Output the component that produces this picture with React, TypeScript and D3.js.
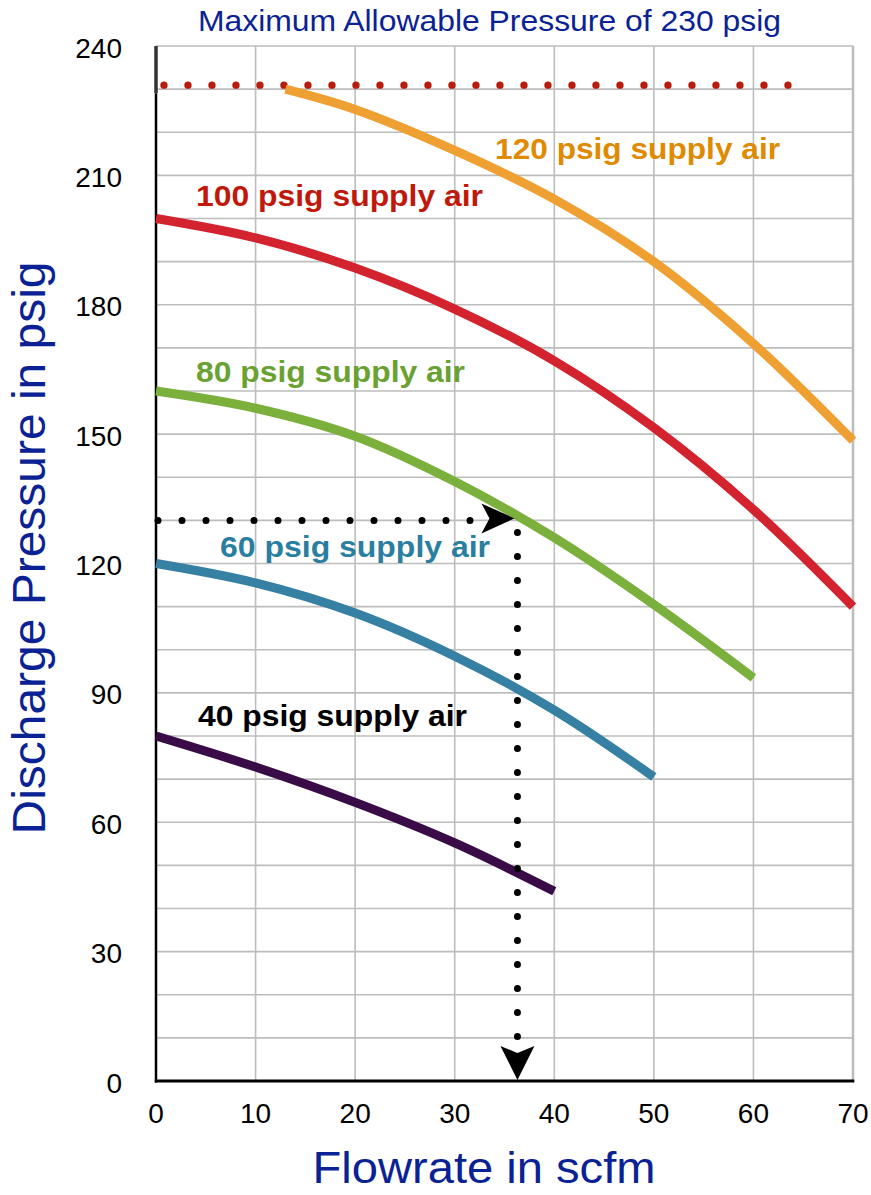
import * as d3 from "d3";
import React from "react";

// flow (scfm) vs discharge pressure (psig)
const curve120: [number, number][] = [[13, 230], [20, 225.3], [30, 215.8], [40, 204.5], [50, 190], [60, 171], [70, 148.5]];
const curve100: [number, number][] = [[0, 200], [10, 195.5], [20, 188.5], [30, 179], [40, 167], [50, 151.5], [60, 132.5], [70, 110]];
const curve80: [number, number][] = [[0, 160], [10, 156], [20, 149.5], [30, 139], [40, 126], [50, 110.5], [60, 93.5]];
const curve60: [number, number][] = [[0, 120], [10, 115.5], [20, 108.5], [30, 98.5], [40, 86], [50, 70.5]];
const curve40: [number, number][] = [[0, 80], [10, 72.8], [20, 64.6], [30, 55.2], [40, 44]];

const curveNames = ["120 psig supply air", "100 psig supply air", "80 psig supply air", "60 psig supply air", "40 psig supply air"];

const xTicks = [0, 10, 20, 30, 40, 50, 60, 70];
const yTicks = [0, 30, 60, 90, 120, 150, 180, 210, 240];
const xGrid = [10, 20, 30, 40, 50, 60, 70];
const yGrid = [10, 20, 30, 40, 50, 60, 70, 80, 90, 100, 110, 120, 130, 140, 150, 160, 170, 180, 190, 200, 210, 220, 230, 240];

const maxPressure = 230;
const maxLineFlow: [number, number] = [0.8, 64];
const example = { flow: 36.3, pressure: 130 };

const title = "Maximum Allowable Pressure of 230 psig";
const xTitle = "Flowrate in scfm";
const yTitle = "Discharge Pressure in psig";

const W = 871;
const H = 1195;
const FONT = "'Liberation Sans', Arial, Helvetica, sans-serif";

const styles = [
  { color: "#efa032", text: "#df8a00", lx: 34.05, ly: 213.8, tl: 285 },
  { color: "#d2232e", text: "#c0190c", lx: 4.02, ly: 202.9, tl: 287 },
  { color: "#7bb03c", text: "#6aa232", lx: 4.02, ly: 162.1, tl: 269 },
  { color: "#3580a3", text: "#2a7ea0", lx: 6.43, ly: 121.5, tl: 270 },
  { color: "#3a0c47", text: "#000000", lx: 4.22, ly: 82.3, tl: 269 },
];

export default function App() {
  const svgRef = React.useRef<SVGSVGElement>(null);

  React.useEffect(() => {
    if (!svgRef.current) return;
    const svg = d3.select(svgRef.current);
    svg.selectAll("*").remove();

    const x = d3.scaleLinear().domain([0, 70]).range([156, 853]);
    const y = d3.scaleLinear().domain([0, 240]).range([1081, 46]);

    svg.append("rect").attr("width", W).attr("height", H).attr("fill", "#fff");

    // grid
    const grid = svg.append("g").attr("stroke", "#bdbdbd").attr("stroke-width", 1.6);
    grid.selectAll("line.gy")
      .data(yGrid)
      .enter()
      .append("line")
      .attr("x1", x(0))
      .attr("x2", x(70))
      .attr("y1", (d) => y(d))
      .attr("y2", (d) => y(d));
    grid.selectAll("line.gx")
      .data(xGrid)
      .enter()
      .append("line")
      .attr("x1", (d) => x(d))
      .attr("x2", (d) => x(d))
      .attr("y1", y(240))
      .attr("y2", y(0))
      .attr("stroke-width", (d) => (d === 70 ? 2.6 : 1.6));

    // axes
    svg.append("line")
      .attr("x1", x(0)).attr("x2", x(0))
      .attr("y1", y(0) + 1.5).attr("y2", y(maxPressure) + 4)
      .attr("stroke", "#000").attr("stroke-width", 2.5);
    svg.append("line")
      .attr("x1", x(0)).attr("x2", x(0))
      .attr("y1", y(maxPressure) + 4).attr("y2", y(240))
      .attr("stroke", "#333").attr("stroke-width", 3.5);
    svg.append("line")
      .attr("x1", x(0) - 1.2).attr("x2", x(70) + 1.3)
      .attr("y1", y(0)).attr("y2", y(0))
      .attr("stroke", "#000").attr("stroke-width", 3);

    // tick labels
    svg.append("g")
      .selectAll("text")
      .data(yTicks)
      .enter()
      .append("text")
      .attr("x", 122)
      .attr("y", (d) => y(d) + 11.5)
      .attr("text-anchor", "end")
      .attr("font-family", FONT)
      .attr("font-size", 28)
      .attr("fill", "#000")
      .text((d) => String(d));
    svg.append("g")
      .selectAll("text")
      .data(xTicks)
      .enter()
      .append("text")
      .attr("x", (d) => x(d))
      .attr("y", y(0) + 42)
      .attr("text-anchor", "middle")
      .attr("font-family", FONT)
      .attr("font-size", 28)
      .attr("fill", "#000")
      .text((d) => String(d));

    // max allowable pressure dotted line
    svg.append("line")
      .attr("x1", x(maxLineFlow[0])).attr("x2", x(maxLineFlow[1]))
      .attr("y1", y(maxPressure) - 4).attr("y2", y(maxPressure) - 4)
      .attr("stroke", "#b81d0e")
      .attr("stroke-width", 7.4)
      .attr("stroke-linecap", "round")
      .attr("stroke-dasharray", "0 24");

    // curves
    const line = d3
      .line<[number, number]>()
      .x((d) => x(d[0]))
      .y((d) => y(d[1]))
      .curve(d3.curveCatmullRom.alpha(0.5));

    const curves = [curve120, curve100, curve80, curve60, curve40];
    curves.forEach((c, i) => {
      svg.append("path")
        .datum(c)
        .attr("fill", "none")
        .attr("stroke", styles[i].color)
        .attr("stroke-width", 9)
        .attr("stroke-linecap", "butt")
        .attr("d", line);
    });

    // example reading: dotted guides with arrowheads
    const ex = x(example.flow);
    const ey = y(example.pressure);
    svg.append("line")
      .attr("x1", x(0) + 2).attr("x2", ex - 44)
      .attr("y1", ey).attr("y2", ey)
      .attr("stroke", "#000").attr("stroke-width", 7)
      .attr("stroke-linecap", "round").attr("stroke-dasharray", "0 24");
    svg.append("line")
      .attr("x1", ex).attr("x2", ex)
      .attr("y1", ey + 12).attr("y2", y(0) - 44)
      .attr("stroke", "#000").attr("stroke-width", 7)
      .attr("stroke-linecap", "round").attr("stroke-dasharray", "0 24");

    const hx = ex - 3;
    svg.append("path")
      .attr("d", `M${hx},${ey - 2} L${hx - 33},${ey - 17} L${hx - 25},${ey - 2} L${hx - 33},${ey + 13} Z`)
      .attr("fill", "#000");
    const vy = y(0) - 1;
    svg.append("path")
      .attr("d", `M${ex},${vy} L${ex - 17},${vy - 34} L${ex},${vy - 27} L${ex + 17},${vy - 34} Z`)
      .attr("fill", "#000");

    // curve labels
    curveNames.forEach((name, i) => {
      const s = styles[i];
      svg.append("text")
        .attr("x", x(s.lx))
        .attr("y", y(s.ly))
        .attr("font-family", FONT)
        .attr("font-weight", "bold")
        .attr("font-size", 30)
        .attr("textLength", s.tl)
        .attr("lengthAdjust", "spacingAndGlyphs")
        .attr("fill", s.text)
        .text(name);
    });

    // titles
    svg.append("text")
      .attr("x", 198)
      .attr("y", 31)
      .attr("font-family", FONT)
      .attr("font-size", 30)
      .attr("textLength", 583)
      .attr("lengthAdjust", "spacingAndGlyphs")
      .attr("fill", "#0b2294")
      .text(title);
    svg.append("text")
      .attr("x", 484)
      .attr("y", 1183)
      .attr("text-anchor", "middle")
      .attr("font-family", FONT)
      .attr("font-size", 45)
      .attr("textLength", 343)
      .attr("lengthAdjust", "spacingAndGlyphs")
      .attr("fill", "#0b2294")
      .text(xTitle);
    svg.append("text")
      .attr("transform", `translate(45,548) rotate(-90)`)
      .attr("text-anchor", "middle")
      .attr("font-family", FONT)
      .attr("font-size", 46)
      .attr("textLength", 573)
      .attr("lengthAdjust", "spacingAndGlyphs")
      .attr("fill", "#0b2294")
      .text(yTitle);
  }, []);

  return (
    <div style={{ position: "absolute", left: 0, top: 0 }}>
      <svg ref={svgRef} width={W} height={H} role="img" aria-label="Discharge pressure vs flowrate" />
    </div>
  );
}
